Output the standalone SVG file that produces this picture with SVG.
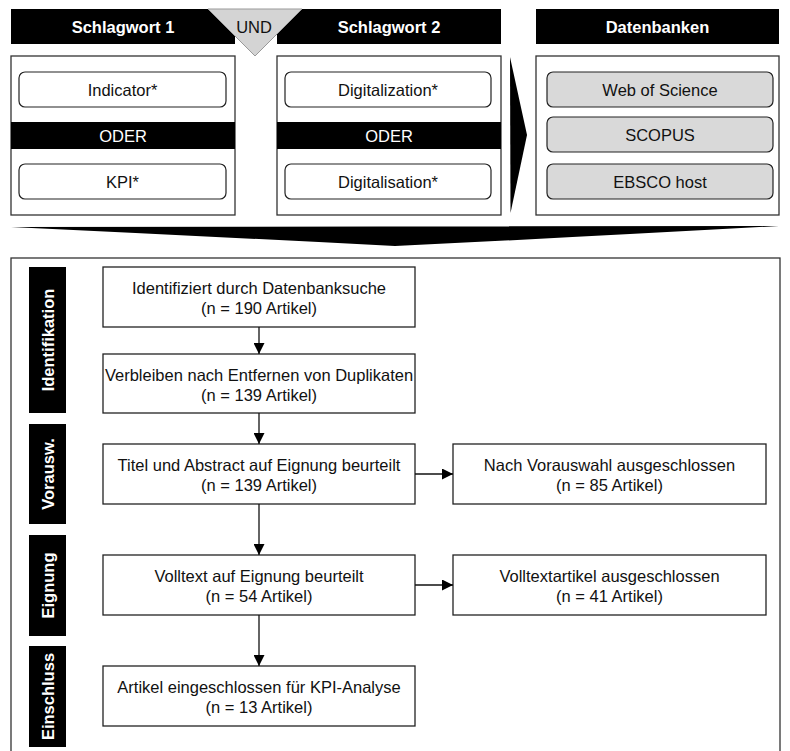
<svg xmlns="http://www.w3.org/2000/svg" width="790" height="751" viewBox="0 0 790 751">
<style>
text{font-family:"Liberation Sans",Arial,sans-serif;font-size:16.5px;fill:#111;text-anchor:middle}
.b{font-weight:bold}
.w{fill:#fff}
.bar{fill:#000}
.frame{fill:#fff;stroke:#333;stroke-width:1.3}
.rb{fill:#fff;stroke:#222;stroke-width:1.2}
.rg{fill:#d9d9d9;stroke:#222;stroke-width:1.2}
.nb{fill:#fff;stroke:#222;stroke-width:1.3}
.ln{stroke:#111;stroke-width:1.3;fill:none}
</style>
<defs>
<marker id="ah" viewBox="0 0 10 10" refX="10" refY="5" markerWidth="11" markerHeight="11" markerUnits="userSpaceOnUse" orient="auto">
<path d="M0,0 L10,5 L0,10 z" fill="#000"/>
</marker>
</defs>
<rect width="790" height="751" fill="#fff"/>

<g id="schlagwort1">
<rect class="bar" x="11" y="9" width="224" height="35"/>
<text class="b w" x="123" y="32.5">Schlagwort 1</text>
<rect class="frame" x="11" y="56" width="224" height="159"/>
<rect class="bar" x="11" y="122" width="224" height="27"/>
<text class="w" x="123" y="141.5">ODER</text>
</g>
<g id="indicator"><rect class="rb" x="19" y="72" width="207" height="35" rx="6"/><text x="122.5" y="95.5">Indicator*</text></g>
<g id="kpi"><rect class="rb" x="19" y="164" width="207" height="35" rx="6"/><text x="122.5" y="187.5">KPI*</text></g>

<g id="schlagwort2">
<rect class="bar" x="277" y="9" width="224" height="35"/>
<text class="b w" x="389" y="32.5">Schlagwort 2</text>
<rect class="frame" x="277" y="56" width="224" height="159"/>
<rect class="bar" x="277" y="122" width="224" height="27"/>
<text class="w" x="389" y="141.5">ODER</text>
</g>
<g id="digitalization"><rect class="rb" x="285" y="72" width="206" height="35" rx="6"/><text x="388" y="95.5">Digitalization*</text></g>
<g id="digitalisation"><rect class="rb" x="285" y="164" width="206" height="35" rx="6"/><text x="388" y="187.5">Digitalisation*</text></g>

<g id="und">
<polygon points="208,9 302,9 255,56" fill="#d4d4d4" stroke="#999" stroke-width="1"/>
<text x="254" y="33">UND</text>
</g>

<g id="datenbanken">
<rect class="bar" x="536" y="9" width="243" height="35"/>
<text class="b w" x="657.5" y="32.5">Datenbanken</text>
<rect class="frame" x="536" y="56" width="243" height="159"/>
</g>
<g id="wos"><rect class="rg" x="547" y="72" width="226" height="35" rx="6"/><text x="660" y="95.5">Web of Science</text></g>
<g id="scopus"><rect class="rg" x="547" y="117" width="226" height="35" rx="6"/><text x="660" y="140.5">SCOPUS</text></g>
<g id="ebsco"><rect class="rg" x="547" y="164" width="226" height="35" rx="6"/><text x="660" y="187.5">EBSCO host</text></g>

<g id="bigarrows">
<polygon points="510,57 527,135 510.5,213" fill="#000"/>
<path d="M11,227 L779,226 Q600,236 395,246 Q200,236 11,227 z" fill="#000"/>
</g>

<g id="prisma">
<rect class="frame" x="11" y="258" width="769" height="500"/>
</g>

<g id="phase-identifikation"><rect class="bar" x="29" y="267" width="37" height="146"/><text class="b w" transform="translate(53.5,340) rotate(-90)">Identifikation</text></g>
<g id="phase-vorausw"><rect class="bar" x="29" y="424" width="37" height="100"/><text class="b w" transform="translate(53.5,474) rotate(-90)">Vorausw.</text></g>
<g id="phase-eignung"><rect class="bar" x="29" y="535" width="37" height="101"/><text class="b w" transform="translate(53.5,585.5) rotate(-90)">Eignung</text></g>
<g id="phase-einschluss"><rect class="bar" x="29" y="646" width="37" height="101"/><text class="b w" transform="translate(53.5,696.5) rotate(-90)">Einschluss</text></g>

<g id="n-identifiziert"><rect class="nb" x="103" y="267" width="312" height="60"/><text x="259" y="294">Identifiziert durch Datenbanksuche</text><text x="259" y="314">(n = 190 Artikel)</text></g>
<g id="n-verbleiben"><rect class="nb" x="103" y="354" width="312" height="59"/><text x="259" y="380.5">Verbleiben nach Entfernen von Duplikaten</text><text x="259" y="400.5">(n = 139 Artikel)</text></g>
<g id="n-titel"><rect class="nb" x="103" y="444" width="312" height="60"/><text x="259" y="471">Titel und Abstract auf Eignung beurteilt</text><text x="259" y="491">(n = 139 Artikel)</text></g>
<g id="n-volltext"><rect class="nb" x="103" y="555" width="312" height="60"/><text x="259" y="582">Volltext auf Eignung beurteilt</text><text x="259" y="602">(n = 54 Artikel)</text></g>
<g id="n-eingeschlossen"><rect class="nb" x="103" y="666" width="312" height="60"/><text x="259" y="693">Artikel eingeschlossen für KPI-Analyse</text><text x="259" y="713">(n = 13 Artikel)</text></g>
<g id="n-vorauswahl"><rect class="nb" x="453" y="444" width="313" height="60"/><text x="609.5" y="471">Nach Vorauswahl ausgeschlossen</text><text x="609.5" y="491">(n = 85 Artikel)</text></g>
<g id="n-volltextausg"><rect class="nb" x="453" y="555" width="313" height="60"/><text x="609.5" y="582">Volltextartikel ausgeschlossen</text><text x="609.5" y="602">(n = 41 Artikel)</text></g>

<g id="connectors">
<line class="ln" x1="259" y1="327" x2="259" y2="354" marker-end="url(#ah)"/>
<line class="ln" x1="259" y1="413" x2="259" y2="444" marker-end="url(#ah)"/>
<line class="ln" x1="259" y1="504" x2="259" y2="555" marker-end="url(#ah)"/>
<line class="ln" x1="259" y1="615" x2="259" y2="666" marker-end="url(#ah)"/>
<line class="ln" x1="415" y1="474" x2="453" y2="474" marker-end="url(#ah)"/>
<line class="ln" x1="415" y1="585" x2="453" y2="585" marker-end="url(#ah)"/>
</g>
</svg>
